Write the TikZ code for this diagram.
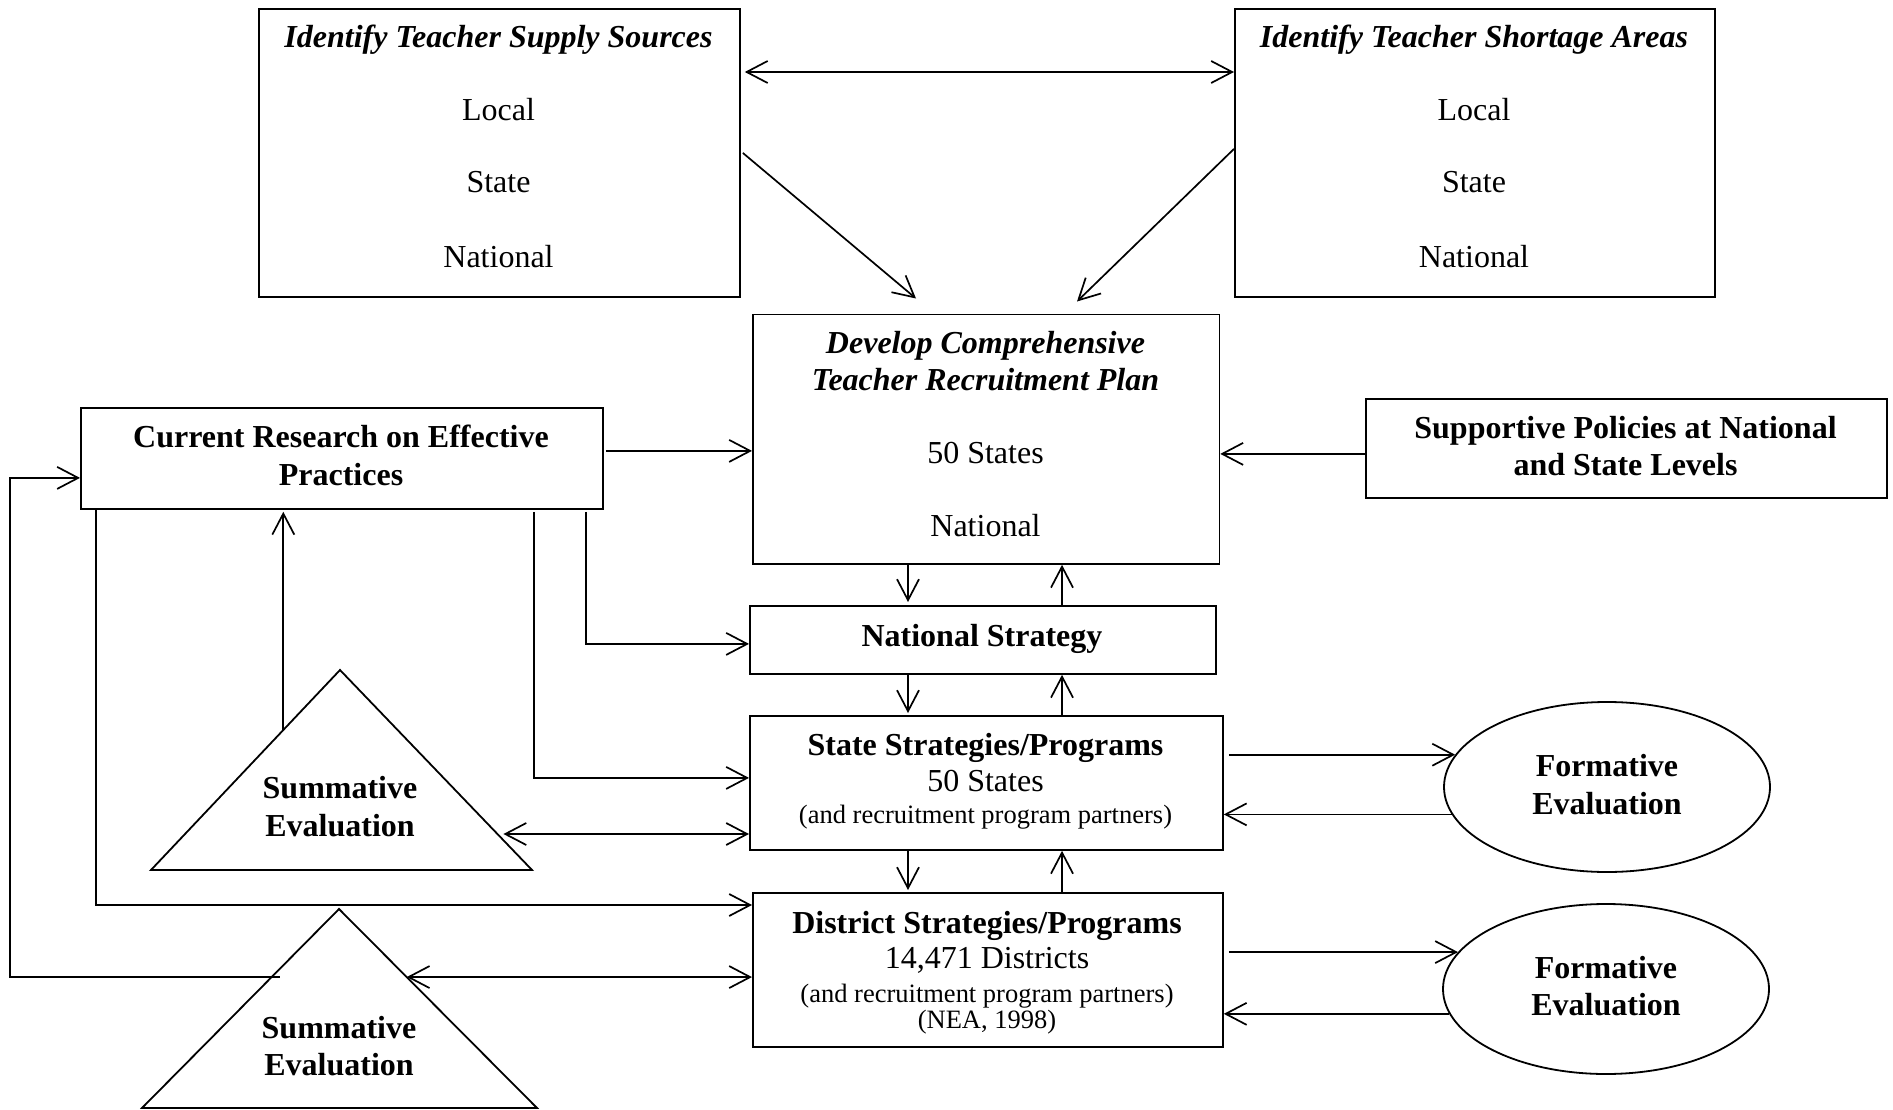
\documentclass[tikz,border=0pt]{standalone}
\usepackage{fontspec}
\setmainfont{Liberation Serif}
\usetikzlibrary{arrows.meta,calc,shapes.geometric}
\begin{document}
\begin{tikzpicture}[x=1pt,y=-1pt,
  box/.style={draw, line width=1.8pt, inner sep=0pt, anchor=north west},
  txt/.style={anchor=base, inner sep=0pt, font=\fontsize{32pt}{37pt}\selectfont},
  bi/.style={anchor=base, inner sep=0pt, font=\fontsize{32pt}{37pt}\selectfont\bfseries\itshape},
  bf/.style={anchor=base, inner sep=0pt, font=\fontsize{32pt}{37pt}\selectfont\bfseries},
  sm/.style={anchor=base, inner sep=0pt, font=\fontsize{26.5pt}{30pt}\selectfont},
  arr/.style={-{Straight Barb[length=21pt,width=22pt]}, line width=1.7pt},
  dbl/.style={{Straight Barb[length=21pt,width=22pt]}-{Straight Barb[length=21pt,width=22pt]}, line width=1.7pt},
  ev/.style={draw, ellipse, line width=1.8pt, minimum width=326pt, minimum height=170pt, inner sep=0pt},
  tri/.style={draw, line width=1.8pt, line join=miter},
]
\fill[white] (0,0) rectangle (1893,1110);
\useasboundingbox (0,0) rectangle (1893,1110);

% boxes
\node[box, minimum width=481pt, minimum height=288pt] (supply) at (258,8) {};
\node[box, minimum width=480pt, minimum height=288pt] (shortage) at (1234,8) {};
\node[box, minimum width=466.5pt, minimum height=249.5pt] (develop) at (752,313.5) {};
\node[box, minimum width=522pt, minimum height=101pt] (curres) at (80,407) {};
\node[box, minimum width=521pt, minimum height=99pt] (sup) at (1365,398) {};
\node[box, minimum width=466pt, minimum height=68pt] (natstrat) at (749,605) {};
\node[box, minimum width=473pt, minimum height=134pt] (state) at (749,715) {};
\node[box, minimum width=470pt, minimum height=154pt] (district) at (752,892) {};
\node[ev] (form1) at (1607,787) {};
\node[ev] (form2) at (1606,989) {};

% triangles
\coordinate (t1a) at (340,670);
\coordinate (t1l) at (151,870);
\coordinate (t1r) at (532,870);
\draw[tri] (t1a) -- (t1l) -- (t1r) -- cycle;
\coordinate (t2a) at (339,909);
\coordinate (t2l) at (142,1108);
\coordinate (t2r) at (537,1108);
\draw[tri] (t2a) -- (t2l) -- (t2r) -- cycle;

% texts
\node[bi] (supT) at (498.5,48) {Identify Teacher Supply Sources};
\node[txt] (supL) at (498.5,121) {Local};
\node[txt] (supS) at (498.5,193) {State};
\node[txt] (supN) at (498.5,267) {National};
\node[bi] (shoT) at (1474,48) {Identify Teacher Shortage Areas};
\node[txt] (shoL) at (1474,121) {Local};
\node[txt] (shoS) at (1474,193) {State};
\node[txt] (shoN) at (1474,267) {National};
\node[bi] (devT1) at (985.5,353) {Develop Comprehensive};
\node[bi] (devT2) at (985.5,390) {Teacher Recruitment Plan};
\node[txt] (devS) at (985.5,463) {50 States};
\node[txt] (devN) at (985.5,536) {National};
\node[bf] (curT1) at (341,447.5) {Current Research on Effective};
\node[bf] (curT2) at (341,485) {Practices};
\node[bf] (supT1) at (1625.5,438) {Supportive Policies at National};
\node[bf] (supT2) at (1625.5,475) {and State Levels};
\node[bf] (natT) at (982,646) {National Strategy};
\node[bf] (staT) at (985.5,755) {State Strategies/Programs};
\node[txt] (staS) at (985.5,791) {50 States};
\node[sm] (staP) at (985.5,823) {(and recruitment program partners)};
\node[bf] (disT) at (987,933) {District Strategies/Programs};
\node[txt] (disD) at (987,968) {14,471 Districts};
\node[sm] (disP) at (987,1002) {(and recruitment program partners)};
\node[sm] (disN) at (987,1028) {(NEA, 1998)};
\node[bf] (sum1a) at (340,798.5) {Summative};
\node[bf] (sum1b) at (340,836) {Evaluation};
\node[bf] (sum2a) at (339,1038) {Summative};
\node[bf] (sum2b) at (339,1075) {Evaluation};
\node[bf] (f1a) at (1607,776) {Formative};
\node[bf] (f1b) at (1607,814) {Evaluation};
\node[bf] (f2a) at (1606,978) {Formative};
\node[bf] (f2b) at (1606,1015) {Evaluation};

% connectors top
\draw[dbl, shorten <=4pt] ([yshift=-64pt]supply.north east) -- ([yshift=-64pt]shortage.north west);
\draw[arr] ([xshift=2pt]supply.east) -- ([xshift=164pt,yshift=15pt]develop.north west);
\draw[arr] ([yshift=4pt]shortage.west) -- ([xshift=325pt,yshift=12pt]develop.north west);

\coordinate (a4) at ([yshift=7.5pt]curres.east);
\draw[arr, shorten <=2pt] (a4) -- (a4 -| develop.west);
\coordinate (a5) at ([yshift=-5.5pt]sup.west);
\draw[arr] (a5) -- (a5 -| develop.east);

% vertical chain
\coordinate (v1) at ([xshift=156pt]develop.south west);
\coordinate (v2) at ([xshift=310pt]develop.south west);
\draw[arr] (v1) -- ([yshift=3pt]v1 |- natstrat.north);
\draw[arr] (v2 |- natstrat.north) -- (v2);
\draw[arr] (v1 |- natstrat.south) -- ([yshift=2pt]v1 |- state.north);
\draw[arr] (v2 |- state.north) -- (v2 |- natstrat.south);
\draw[arr] (v1 |- state.south) -- ([yshift=2pt]v1 |- district.north);
\draw[arr] (v2 |- district.north) -- (v2 |- state.south);

% from current research down
\draw[arr] ([xshift=-18pt,yshift=-2pt]curres.south east) |- ([yshift=-4pt]natstrat.west);
\draw[arr] ([xshift=-70pt,yshift=-2pt]curres.south east) |- ([yshift=5pt]state.west);
\draw[arr] ([xshift=16pt]curres.south west) |- ([yshift=-13pt]district.north west);

% summative 1
\coordinate (t1q) at ($(t1a)!0.3!(t1l)$);
\draw[arr] (t1q) -- ([yshift=-2pt]t1q |- curres.south);
\coordinate (t1p) at ($(t1a)!0.82!(t1r)$);
\draw[dbl] ([xshift=6pt]t1p) -- (t1p -| state.west);

% summative 2
\coordinate (t2p) at ($(t2a)!0.342!(t2r)$);
\draw[dbl] (t2p) -- (t2p -| district.west);
\coordinate (t2q) at ($(t2a)!0.342!(t2l)$);
\draw[arr] ([xshift=8pt]t2q) -| ([xshift=-70pt,yshift=-19.5pt]curres.west) -- ([yshift=-19.5pt]curres.west);

% formative
\draw[arr, shorten <=5pt] (state.east |- form1.168) -- (form1.168);
\draw[arr] (form1.190) -- (form1.190 -| state.east);
\draw[arr, shorten <=5pt] (district.east |- form2.166) -- (form2.166);
\draw[arr] (form2.189) -- (form2.189 -| district.east);
\end{tikzpicture}
\end{document}
